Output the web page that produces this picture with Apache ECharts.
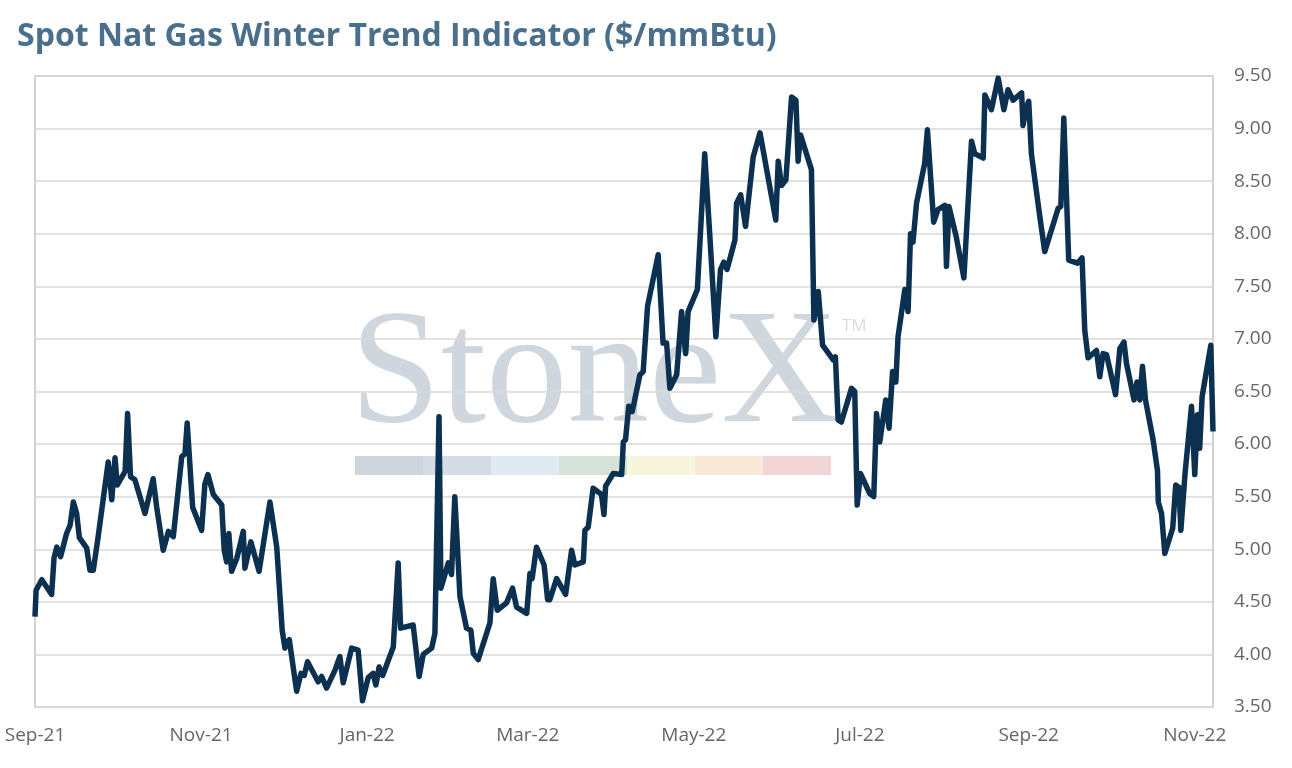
<!DOCTYPE html>
<html>
<head>
<meta charset="utf-8">
<script src="https://cdn.jsdelivr.net/npm/echarts@6/dist/echarts.min.js"></script>
<style>
html,body{margin:0;padding:0;background:#fff;}
#chart{width:1292px;height:768px;}
</style>
</head>
<body>
<div id="chart"></div>
<script>
// x = days since 2021-09-01
const days = [0,0.4,2.5,6.1,7.0,8.0,9.4,11.6,12.9,14.1,15.3,16.3,19.0,20.2,21.4,23.2,26.9,28.2,29.4,30.2,33.1,34.0,35.1,36.7,40.4,43.4,44.7,47.1,49.0,50.8,53.9,55.1,55.9,57.9,61.2,62.4,63.5,65.5,68.6,69.5,70.4,71.2,72.2,74.1,76.5,77.1,79.3,82.3,86.3,88.8,90.8,91.8,93.4,96.1,97.7,98.9,100.1,104.0,105.3,107.1,110.2,112.0,113.2,116.3,118.7,120.3,122.4,124.2,125.2,126.4,127.7,131.6,133.4,134.3,138.9,141.1,142.6,145.7,146.9,148.4,149.1,151.8,153.0,154.2,156.1,158.5,160.1,161.0,162.8,167.1,168.3,169.8,173.2,175.4,176.9,180.6,181.8,182.6,184.2,187.0,188.3,189.1,191.6,194.9,197.1,198.3,201.4,202.0,203.2,205.0,208.1,209.0,209.6,212.4,215.5,216.1,216.9,218.1,219.4,222.2,223.4,225.0,228.9,230.7,232.0,233.2,235.7,237.5,239.0,239.9,243.3,246.0,247.9,250.1,251.8,253.0,254.2,257.1,257.7,259.2,261.0,263.8,266.3,272.1,273.0,274.2,275.8,277.9,279.5,280.3,281.2,285.2,286.1,287.7,289.3,293.2,294.0,295.0,296.2,299.9,301.1,302.0,303.2,306.6,308.1,309.1,310.3,312.5,313.7,315.0,316.2,317.0,319.5,320.7,321.6,322.5,323.8,326.8,327.8,330.1,331.7,334.2,334.8,335.7,338.4,341.2,344.0,345.2,348.3,348.9,351.3,353.8,354.4,355.9,357.4,359.3,362.4,362.9,364.2,365.0,366.0,369.1,370.9,375.8,376.8,377.9,379.7,382.9,384.6,385.6,386.8,389.9,391.1,392.3,393.6,396.9,398.5,400.0,400.9,403.7,404.8,405.8,406.8,407.9,410.7,412.3,412.6,413.8,415.0,417.9,419.0,420.2,420.9,422.4,424.8,426.0,427.0,427.8,428.7,431.9,432.7];
const values = [4.36,4.61,4.71,4.57,4.92,5.02,4.93,5.15,5.23,5.45,5.34,5.11,5.01,4.80,4.80,5.12,5.83,5.47,5.87,5.61,5.74,6.29,5.69,5.66,5.34,5.67,5.40,4.99,5.17,5.12,5.88,5.91,6.20,5.40,5.18,5.62,5.71,5.52,5.42,4.99,4.88,5.15,4.79,4.91,5.17,4.82,5.07,4.79,5.45,5.02,4.23,4.06,4.14,3.65,3.82,3.80,3.93,3.74,3.79,3.68,3.85,3.98,3.73,4.06,4.04,3.56,3.78,3.82,3.71,3.88,3.80,4.07,4.87,4.25,4.28,3.79,4.00,4.06,4.20,6.26,4.63,4.87,4.76,5.50,4.55,4.25,4.23,4.01,3.95,4.30,4.72,4.42,4.49,4.63,4.45,4.39,4.77,4.72,5.02,4.85,4.52,4.52,4.72,4.57,4.99,4.85,4.88,5.18,5.21,5.58,5.52,5.33,5.60,5.72,5.71,6.02,6.04,6.36,6.31,6.66,6.69,7.31,7.80,6.96,6.96,6.53,6.66,7.26,6.86,7.26,7.47,8.76,7.97,7.02,7.66,7.73,7.66,7.94,8.29,8.37,8.07,8.73,8.96,8.13,8.69,8.46,8.51,9.30,9.27,8.69,8.94,8.61,7.18,7.45,6.94,6.80,6.83,6.23,6.21,6.53,6.50,5.42,5.72,5.53,5.50,6.29,6.02,6.42,6.15,6.69,6.59,7.02,7.47,7.26,8.00,7.92,8.29,8.67,8.99,8.11,8.23,8.27,7.69,8.26,7.97,7.58,8.88,8.76,8.72,9.32,9.18,9.48,9.48,9.18,9.37,9.27,9.34,9.03,9.21,9.26,8.76,8.16,7.83,8.24,8.26,9.10,7.75,7.72,7.77,7.08,6.82,6.89,6.64,6.86,6.85,6.47,6.91,6.97,6.77,6.42,6.59,6.42,6.74,6.42,6.04,5.75,5.45,5.34,4.96,5.20,5.61,5.59,5.18,5.71,6.36,5.71,6.28,5.96,6.45,6.94,6.12];
const tickDays = [0,61,122,181,242,303,365,426];
const tickLabels = ['Sep-21','Nov-21','Jan-22','Mar-22','May-22','Jul-22','Sep-22','Nov-22'];

const chart = echarts.init(document.getElementById('chart'));
const labelFont = '"Open Sans", Lato, sans-serif';
const barColors = ['#cfd5dc','#d3dce6','#dfeaf3','#d5e2da','#f7f5db','#f9e8d5','#f1d5d7'];
const wmGraphics = [
  {type:'text', left:350, top:297, z:-10, silent:true,
   style:{text:'StoneX', font:'163px "Liberation Serif", "DejaVu Serif", serif', fill:'#cfd6de'}},
  {type:'text', left:842, top:318, z:-10, silent:true,
   style:{text:'TM', font:'17px ' + labelFont, fill:'#d6dce3'}}
];
barColors.forEach((c,i)=>{
  wmGraphics.push({type:'rect', z:-10, silent:true,
    shape:{x:355 + i*68, y:456, width:68, height:19}, style:{fill:c}});
});
wmGraphics.push({type:'text', left:17, top:21,
  style:{text:'Spot Nat Gas Winter Trend Indicator ($/mmBtu)', font:'bold 32px ' + labelFont, fill:'#4a6f8c'}});

chart.setOption({
  animation:false,
  backgroundColor:'#fff',
  graphic: wmGraphics,
  grid:{left:35, right:79, top:76, bottom:61, show:true, borderColor:'#c4c4c4', borderWidth:1.5, containLabel:false},
  xAxis:{
    type:'value', min:0, max:432.7,
    axisLine:{show:false}, axisTick:{show:false}, splitLine:{show:false},
    axisLabel:{
      customValues: tickDays,
      formatter: v => { const i = tickDays.indexOf(Math.round(v)); return i >= 0 ? tickLabels[i] : ''; },
      color:'#666', fontFamily:labelFont, fontSize:19, margin:19
    }
  },
  yAxis:{
    type:'value', position:'right', min:3.5, max:9.5, interval:0.5,
    axisLine:{show:false}, axisTick:{show:false},
    splitLine:{lineStyle:{color:'#d9d9d9', width:1.5}},
    axisLabel:{formatter: v => v.toFixed(2), color:'#666', fontFamily:labelFont, fontSize:19, margin:21}
  },
  series:[{
    type:'line', showSymbol:false, symbol:'none',
    data: days.map((d,i)=>[d, values[i]]),
    lineStyle:{color:'#0c3150', width:5.5, join:'round'},
    z:5
  }]
});
</script>
</body>
</html>
